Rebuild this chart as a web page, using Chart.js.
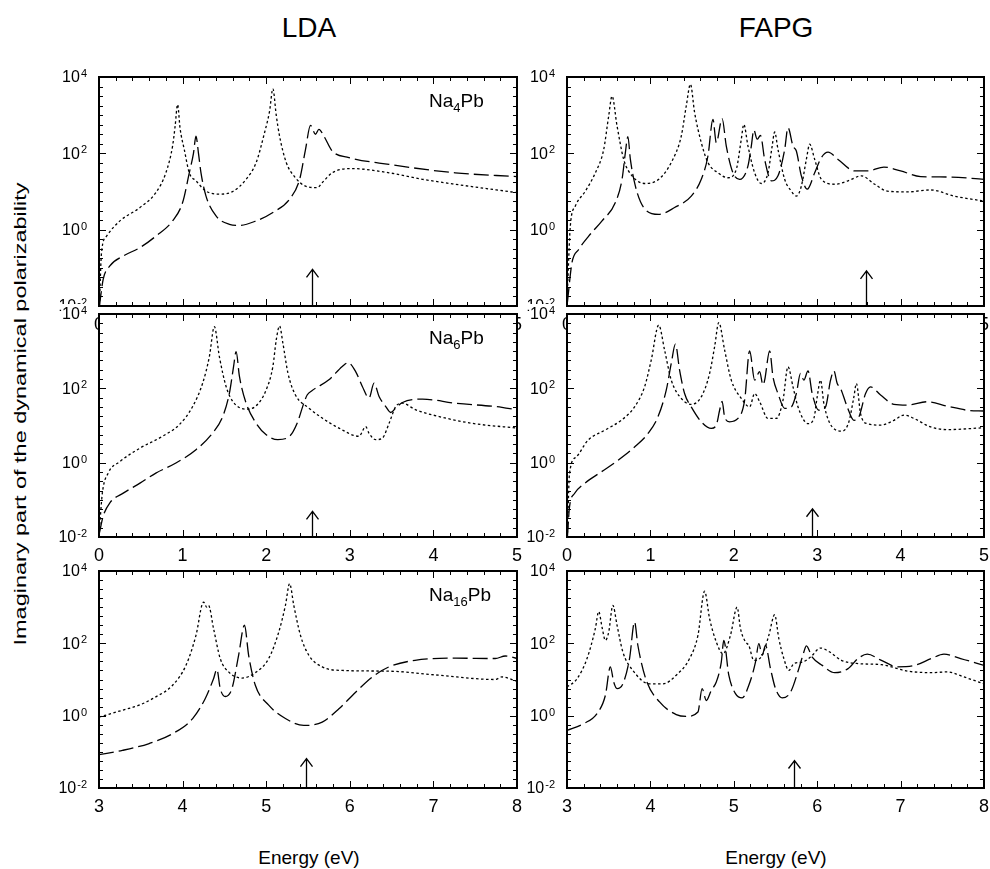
<!DOCTYPE html>
<html>
<head>
<meta charset="utf-8">
<script src="https://cdn.jsdelivr.net/npm/chart.js@4.4.1/dist/chart.umd.min.js"></script>
<style>
  body { margin: 0; background: #fff; }
  #page { position: relative; width: 990px; height: 869px; overflow: hidden; background: #fff;
          font-family: 'Liberation Sans', Arial, Helvetica, sans-serif; color: #000; }
  #page canvas { position: absolute; }
  .txt { position: absolute; white-space: nowrap; line-height: 1; }
</style>
</head>
<body>
<div id="page">
  <div class="txt" style="left:309px;top:28px;font-size:28px;transform:translate(-50%,-50%)">LDA</div>
  <div class="txt" style="left:776px;top:28px;font-size:28px;transform:translate(-50%,-50%)">FAPG</div>
  <div class="txt" style="left:309px;top:857px;font-size:19px;transform:translate(-50%,-50%)">Energy (eV)</div>
  <div class="txt" style="left:776px;top:857px;font-size:19px;transform:translate(-50%,-50%)">Energy (eV)</div>
  <div class="txt" style="left:20px;top:414px;font-size:17px;transform:translate(-50%,-50%) rotate(-90deg) scaleX(1.38)">Imaginary part of the dynamical polarizability</div>
</div>
<script>
// energies in eV, values as log10 of Im(alpha)

// Na4Pb, LDA
const ldaNa4DotE = [0.005,0.03,0.09,0.25,0.49,0.68,0.80,0.88,0.91,0.94,0.97,1.02,1.08,1.16,1.28,1.44,1.60,1.76,1.88,1.98,2.04,2.08,2.12,2.16,2.24,2.35,2.47,2.61,2.67,2.79,3.03,3.47,3.87,4.26,5.0];
const ldaNa4Dot = [-2,-0.6,-0.17,0.23,0.58,0.97,1.49,2.19,2.7,3.28,2.65,2.1,1.49,1.28,1.01,0.93,1.0,1.32,1.76,2.54,3.1,3.69,3.0,2.45,1.76,1.36,1.14,1.1,1.23,1.49,1.6,1.49,1.32,1.19,0.97];
const ldaNa4DashE = [0.005,0.05,0.13,0.29,0.49,0.68,0.88,1.0,1.08,1.13,1.16,1.19,1.22,1.28,1.4,1.56,1.68,1.88,2.08,2.28,2.4,2.47,2.53,2.59,2.63,2.69,2.79,2.99,3.47,4.26,5.0];
const ldaNa4Dash = [-2,-1.3,-0.95,-0.69,-0.47,-0.17,0.23,0.71,1.49,2.0,2.45,2.0,1.49,0.88,0.36,0.14,0.11,0.23,0.45,0.8,1.32,2.1,2.73,2.5,2.63,2.45,2.06,1.89,1.71,1.49,1.39];

// Na4Pb, FAPG
const fapgNa4DotE = [0.005,0.04,0.1,0.22,0.34,0.44,0.5,0.54,0.6,0.68,0.78,0.94,1.1,1.25,1.37,1.43,1.48,1.53,1.61,1.69,1.81,1.93,2.03,2.09,2.12,2.17,2.25,2.33,2.41,2.46,2.49,2.53,2.61,2.69,2.75,2.81,2.87,2.91,2.97,3.05,3.21,3.37,3.53,3.69,3.84,4.08,4.36,4.64,5.0];
const fapgNa4Dot = [-1.6,0.1,0.62,1.01,1.49,2.1,2.98,3.5,2.72,1.84,1.41,1.21,1.32,1.76,2.45,3.24,3.81,3.07,2.28,1.76,1.49,1.36,1.58,2.37,2.76,2.19,1.49,1.21,1.49,2.19,2.56,2.1,1.32,1.01,0.88,1.14,1.84,2.24,1.84,1.32,1.19,1.28,1.41,1.19,1.01,0.99,1.04,0.88,0.75];
const fapgNa4DashE = [0.005,0.06,0.14,0.26,0.42,0.58,0.66,0.7,0.73,0.76,0.82,0.92,1.1,1.29,1.49,1.61,1.69,1.75,1.79,1.86,1.91,1.99,2.07,2.17,2.21,2.24,2.28,2.32,2.37,2.45,2.53,2.61,2.65,2.71,2.75,2.81,2.88,2.97,3.05,3.13,3.25,3.45,3.61,3.8,4.0,4.24,4.56,5.0];
const fapgNa4Dash = [-1.9,-0.86,-0.52,-0.17,0.23,0.71,1.32,2.02,2.44,1.84,1.14,0.58,0.4,0.58,0.88,1.32,1.93,2.89,2.28,2.91,2.19,1.49,1.32,1.67,2.19,2.61,2.37,2.47,1.84,1.28,1.41,2.1,2.67,2.19,2.06,1.41,1.06,1.49,1.89,2.03,1.84,1.54,1.54,1.64,1.54,1.39,1.38,1.32];

// Na6Pb, LDA
const ldaNa6DotE = [0.005,0.04,0.11,0.25,0.49,0.76,0.96,1.12,1.24,1.32,1.38,1.44,1.52,1.6,1.76,1.88,2.0,2.08,2.12,2.16,2.2,2.26,2.35,2.51,2.67,2.87,3.11,3.19,3.23,3.31,3.39,3.47,3.55,3.63,3.79,4.07,4.46,5.0];
const ldaNa6Dot = [-1.8,-0.82,-0.28,0.03,0.39,0.71,1.02,1.51,2.14,2.85,3.66,2.85,2.05,1.65,1.44,1.53,1.96,2.59,3.3,3.68,3.21,2.41,1.82,1.47,1.2,0.93,0.71,0.97,0.79,0.62,0.66,1.06,1.51,1.6,1.42,1.24,1.06,0.93];
const ldaNa6DashE = [0.005,0.05,0.13,0.29,0.49,0.68,0.92,1.16,1.36,1.48,1.56,1.61,1.64,1.68,1.76,1.88,2.0,2.14,2.28,2.37,2.45,2.49,2.55,2.75,2.91,2.98,3.07,3.15,3.23,3.29,3.35,3.43,3.49,3.55,3.63,3.87,4.26,4.82,5.0];
const ldaNa6Dash = [-1.89,-1.44,-1.08,-0.82,-0.55,-0.28,-0.01,0.35,0.8,1.24,1.87,2.59,2.99,2.32,1.6,1.06,0.75,0.62,0.71,1.06,1.6,1.82,1.94,2.23,2.59,2.69,2.45,2.05,1.74,2.14,1.78,1.51,1.35,1.47,1.62,1.71,1.6,1.49,1.42];

// Na6Pb, FAPG
const fapgNa6DotE = [0.005,0.03,0.11,0.25,0.45,0.65,0.81,0.93,1.01,1.1,1.17,1.25,1.37,1.49,1.61,1.71,1.77,1.82,1.89,1.97,2.09,2.19,2.25,2.31,2.41,2.51,2.59,2.65,2.71,2.77,2.89,2.96,3.0,3.04,3.08,3.18,3.3,3.38,3.44,3.47,3.52,3.6,3.76,3.92,4.04,4.16,4.36,4.56,5.0];
const fapgNa6Dot = [-1.9,-0.29,0.15,0.6,0.87,1.14,1.5,2.04,2.76,3.7,3.03,2.22,1.73,1.57,1.77,2.4,3.12,3.77,3.03,2.22,1.73,1.5,1.86,1.64,1.19,1.19,1.68,2.58,2.04,1.5,1.05,1.19,1.77,2.22,1.59,0.96,0.85,1.1,1.77,2.13,1.32,1.05,1.01,1.14,1.28,1.19,0.96,0.89,0.94];
const fapgNa6DashE = [0.005,0.03,0.09,0.21,0.41,0.61,0.81,0.97,1.09,1.19,1.25,1.3,1.35,1.41,1.49,1.61,1.73,1.79,1.83,1.86,1.89,1.95,2.05,2.13,2.19,2.25,2.31,2.35,2.37,2.43,2.47,2.53,2.61,2.69,2.75,2.8,2.84,2.89,2.94,3.02,3.1,3.16,3.2,3.24,3.28,3.36,3.44,3.5,3.58,3.64,3.76,3.92,4.08,4.32,4.56,4.8,5.0];
const fapgNa6Dash = [-2,-1.19,-0.83,-0.56,-0.25,0.06,0.42,0.78,1.23,1.95,2.67,3.19,2.49,1.86,1.5,1.1,0.92,1.01,1.41,1.65,1.23,1.1,1.19,1.68,3.01,2.22,2.45,2.09,2.22,3.01,2.31,1.86,1.46,1.5,1.86,2.4,2.22,2.47,1.86,1.41,1.5,2.22,2.47,2.13,2.0,1.5,1.14,1.23,1.86,2.04,1.82,1.57,1.55,1.64,1.52,1.41,1.39];

// Na16Pb, LDA
const ldaNa16DotE = [3.0,3.28,3.48,3.68,3.88,4.04,4.16,4.25,4.29,4.31,4.37,4.45,4.55,4.71,4.87,5.03,5.15,5.23,5.28,5.33,5.41,5.51,5.67,5.91,6.47,7.06,7.74,7.82,8.0];
const ldaNa16Dot = [-0.04,0.15,0.29,0.52,0.84,1.39,2.22,3.14,3.0,3.05,2.41,1.58,1.21,1.04,1.19,1.58,2.31,3.05,3.65,3.05,2.22,1.67,1.35,1.25,1.23,1.12,1.0,1.07,0.95];
const ldaNa16DashE = [3.0,3.28,3.6,3.88,4.12,4.27,4.37,4.41,4.45,4.51,4.59,4.67,4.74,4.79,4.87,5.03,5.23,5.45,5.67,5.87,6.07,6.27,6.47,6.78,7.26,7.74,7.86,8.0];
const ldaNa16Dash = [-1.08,-0.96,-0.77,-0.5,-0.08,0.47,1.02,1.28,0.75,0.53,0.75,1.67,2.5,1.67,0.84,0.29,-0.08,-0.27,-0.18,0.19,0.65,1.07,1.35,1.53,1.59,1.58,1.65,1.58];

// Na16Pb, FAPG
const fapgNa16DotE = [3.0,3.12,3.24,3.34,3.38,3.42,3.46,3.5,3.55,3.6,3.67,3.79,3.99,4.15,4.31,4.47,4.57,4.65,4.71,4.79,4.87,4.96,5.04,5.08,5.14,5.18,5.24,5.34,5.42,5.49,5.54,5.6,5.66,5.72,5.82,5.92,6.04,6.15,6.29,6.49,6.77,7.09,7.37,7.56,7.76,8.0];
const fapgNa16Dot = [0.79,1.02,1.58,2.41,2.88,2.45,2.08,2.31,3.05,2.5,1.76,1.25,0.88,0.88,1.12,1.58,2.22,3.44,2.68,2.04,1.71,2.22,3.0,2.41,2.04,1.94,1.53,1.67,2.22,2.79,2.13,1.58,1.25,1.44,1.48,1.62,1.87,1.76,1.53,1.44,1.41,1.23,1.19,1.21,1.07,0.88];
const fapgNa16DashE = [3.0,3.2,3.36,3.46,3.52,3.56,3.6,3.67,3.75,3.81,3.85,3.95,4.11,4.31,4.43,4.57,4.62,4.67,4.73,4.79,4.85,4.88,4.94,5.02,5.1,5.18,5.26,5.3,5.34,5.38,5.44,5.5,5.58,5.68,5.78,5.84,5.87,5.94,6.06,6.21,6.37,6.49,6.6,6.77,6.96,7.17,7.37,7.52,7.72,8.0];
const fapgNa16Dash = [-0.41,-0.22,0.06,0.56,1.35,0.93,0.75,0.88,1.58,2.59,1.94,0.98,0.38,0.03,-0.02,0.1,0.75,0.42,0.7,0.93,1.48,2.08,1.12,0.61,0.49,0.84,1.48,1.99,1.67,1.94,1.3,0.75,0.49,0.65,1.3,1.76,1.93,1.62,1.39,1.19,1.3,1.58,1.7,1.53,1.35,1.39,1.58,1.7,1.58,1.39];

// arrows (energy, log10 of tip), panel order TL, TR, ML, MR, BL, BR
const arrowE = [2.55, 3.59, 2.55, 2.94, 5.48, 5.72];
const arrowTip = [-1.04, -1.08, -1.31, -1.24, -1.19, -1.24];

const compounds = [['Na', '4', 'Pb'], null, ['Na', '6', 'Pb'], null, ['Na', '16', 'Pb'], null];
const xRanges = [[0, 5], [0, 5], [0, 5], [0, 5], [3, 8], [3, 8]];
const yTickExp = [-2, 0, 2, 4];

const FONT = "'Liberation Sans', Arial, Helvetica, sans-serif";
const PADL = 50, PADT = 10, PADR = 12, PADB = 32;

// frame geometry (left, top, width, height of plot area)
const panels = [
  { left: 99, top: 77, w: 419, h: 229, dotE: ldaNa4DotE, dot: ldaNa4Dot, dashE: ldaNa4DashE, dash: ldaNa4Dash },
  { left: 567, top: 77, w: 418, h: 229, dotE: fapgNa4DotE, dot: fapgNa4Dot, dashE: fapgNa4DashE, dash: fapgNa4Dash },
  { left: 99, top: 314, w: 419, h: 223, dotE: ldaNa6DotE, dot: ldaNa6Dot, dashE: ldaNa6DashE, dash: ldaNa6Dash },
  { left: 567, top: 314, w: 418, h: 223, dotE: fapgNa6DotE, dot: fapgNa6Dot, dashE: fapgNa6DashE, dash: fapgNa6Dash },
  { left: 99, top: 571, w: 419, h: 217, dotE: ldaNa16DotE, dot: ldaNa16Dot, dashE: ldaNa16DashE, dash: ldaNa16Dash },
  { left: 567, top: 571, w: 418, h: 217, dotE: fapgNa16DotE, dot: fapgNa16Dot, dashE: fapgNa16DashE, dash: fapgNa16Dash },
];

const framePlugin = {
  id: 'frame',
  beforeDraw(chart) {
    const { ctx, chartArea: a } = chart;
    ctx.save();
    ctx.fillStyle = '#fff';
    ctx.fillRect(a.left, a.top, a.right - a.left, a.bottom - a.top);
    ctx.restore();
  },
  afterDraw(chart) {
    const opts = chart.options.plugins.frame;
    const { ctx, chartArea: a, scales: { x, y } } = chart;
    ctx.save();
    ctx.strokeStyle = '#000';
    ctx.fillStyle = '#000';

    // minor and major ticks, inward on all sides
    ctx.lineWidth = 1;
    ctx.beginPath();
    const x0 = x.min;
    for (let i = 0; i <= (x.max - x.min) * 5; i++) {
      const v = x0 + i / 5;
      const px = Math.round(x.getPixelForValue(v)) + 0.5;
      const len = i % 5 === 0 ? 7 : 4;
      ctx.moveTo(px, a.bottom); ctx.lineTo(px, a.bottom - len);
      ctx.moveTo(px, a.top); ctx.lineTo(px, a.top + len);
    }
    for (let i = 0; i <= 24; i++) {
      const v = -2 + i / 4;
      const py = Math.round(y.getPixelForValue(v)) + 0.5;
      const len = i % 8 === 0 ? 7 : 4;
      ctx.moveTo(a.left, py); ctx.lineTo(a.left + len, py);
      ctx.moveTo(a.right, py); ctx.lineTo(a.right - len, py);
    }
    ctx.stroke();

    // frame
    ctx.lineWidth = 2;
    ctx.strokeRect(a.left, a.top, a.right - a.left, a.bottom - a.top);

    // arrow marking the threshold
    const ax = Math.round(x.getPixelForValue(opts.arrowE)) + 0.5;
    const ay = y.getPixelForValue(opts.arrowTip);
    ctx.lineWidth = 1.3;
    ctx.beginPath();
    ctx.moveTo(ax, a.bottom); ctx.lineTo(ax, ay);
    ctx.moveTo(ax - 6, ay + 8); ctx.lineTo(ax, ay); ctx.lineTo(ax + 6, ay + 8);
    ctx.stroke();

    // y labels 10^n with white backdrop
    for (const e of yTickExp) {
      const py = y.getPixelForValue(e);
      ctx.font = '16px ' + FONT;
      const w1 = ctx.measureText('10').width;
      ctx.font = '11px ' + FONT;
      const w2 = ctx.measureText(String(e)).width;
      const right = a.left - 12;
      const left = right - w1 - w2 - 1;
      ctx.fillStyle = '#fff';
      ctx.fillRect(left - 1, py - 10, w1 + w2 + 3, 19);
      ctx.fillStyle = '#000';
      ctx.textBaseline = 'middle';
      ctx.font = '16px ' + FONT;
      ctx.fillText('10', left, py + 1);
      ctx.textBaseline = 'alphabetic';
      ctx.font = '11px ' + FONT;
      ctx.fillText(String(e), left + w1 + 1, py);
    }

    // compound name with subscript
    if (opts.compound) {
      const [a1, sub, a2] = opts.compound;
      let cx = a.left + 330;
      const base = a.top + 30;
      ctx.textBaseline = 'alphabetic';
      ctx.font = '19px ' + FONT;
      ctx.fillText(a1, cx, base);
      cx += ctx.measureText(a1).width;
      ctx.font = '13px ' + FONT;
      ctx.fillText(sub, cx, base + 5);
      cx += ctx.measureText(sub).width;
      ctx.font = '19px ' + FONT;
      ctx.fillText(a2, cx, base);
    }
    ctx.restore();
  }
};

const page = document.getElementById('page');

panels.forEach((p, k) => {
  const cv = document.createElement('canvas');
  const W = p.w + PADL + PADR, H = p.h + PADT + PADB;
  cv.width = W; cv.height = H;
  cv.style.left = (p.left - PADL) + 'px';
  cv.style.top = (p.top - PADT) + 'px';
  cv.style.width = W + 'px';
  cv.style.height = H + 'px';
  page.appendChild(cv);

  const toPts = (es, vs) => es.map((e, i) => ({ x: e, y: vs[i] }));

  new Chart(cv, {
    type: 'line',
    data: {
      datasets: [
        { data: toPts(p.dashE, p.dash), borderDash: [15, 5] },
        { data: toPts(p.dotE, p.dot), borderDash: [2.5, 2.5] }
      ]
    },
    options: {
      responsive: false,
      animation: false,
      devicePixelRatio: 1,
      layout: { padding: { left: 0, top: PADT, right: PADR, bottom: 0 }, autoPadding: false },
      elements: {
        point: { radius: 0 },
        line: { borderColor: '#000', borderWidth: 1.3, cubicInterpolationMode: 'monotone', fill: false }
      },
      plugins: {
        legend: { display: false },
        tooltip: { enabled: false },
        frame: { arrowE: arrowE[k], arrowTip: arrowTip[k], compound: compounds[k] }
      },
      scales: {
        x: {
          type: 'linear', min: xRanges[k][0], max: xRanges[k][1],
          grid: { display: false, drawTicks: false },
          border: { display: false },
          ticks: { stepSize: 1, color: '#000', font: { size: 18, family: FONT }, padding: 8, maxRotation: 0, autoSkip: false },
          afterFit(s) { s.height = PADB; }
        },
        y: {
          type: 'linear', min: -2, max: 4,
          grid: { display: false, drawTicks: false },
          border: { display: false },
          ticks: { display: false, stepSize: 2 },
          afterFit(s) { s.width = PADL; }
        }
      }
    },
    plugins: [framePlugin]
  });
});
</script>
</body>
</html>
